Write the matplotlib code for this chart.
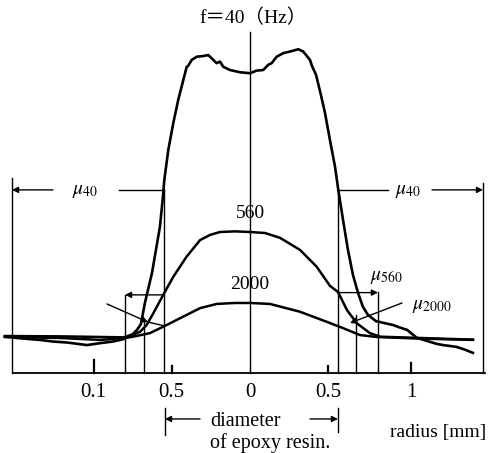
import matplotlib
matplotlib.use("Agg")
import matplotlib.pyplot as plt

plt.rcParams['font.family'] = ['Liberation Serif', 'DejaVu Serif']
plt.rcParams['mathtext.fontset'] = 'stix'

# radius [mm] and relative amplitude
x40 = [-1.551, -1.456, -1.329, -1.247, -1.158, -1.032, -0.949, -0.867, -0.804, -0.772,
       -0.741, -0.715, -0.690, -0.665, -0.620, -0.595, -0.570, -0.551, -0.542, -0.517,
       -0.485, -0.454, -0.422, -0.401, -0.391, -0.369, -0.337, -0.297, -0.264, -0.242,
       -0.211, -0.190, -0.169, -0.127, -0.063, 0.0, 0.042, 0.084, 0.116, 0.137,
       0.169, 0.211, 0.253, 0.306, 0.337, 0.380, 0.392, 0.418, 0.449, 0.475,
       0.506, 0.538, 0.559, 0.589, 0.620, 0.652, 0.684, 0.715, 0.747, 0.797,
       0.850, 0.905, 0.950, 0.994, 1.057, 1.100, 1.139, 1.180, 1.222, 1.270, 1.310, 1.360, 1.411]
y40 = [11.2, 10.7, 10.2, 9.7, 9.4, 8.6, 9.2, 9.7, 10.4, 11.4,
       12.0, 13.3, 15.1, 21.6, 30.9, 38.0, 45.1, 54.3, 59.6, 68.8,
       77.2, 84.3, 90.4, 94.4, 94.8, 96.6, 97.6, 97.8, 98.1, 97.1,
       95.6, 96.1, 94.5, 93.5, 92.8, 92.5, 93.3, 93.5, 95.1, 95.6,
       97.6, 98.7, 99.2, 99.9, 99.2, 96.6, 94.8, 92.0, 85.8, 80.2,
       71.9, 63.7, 56.5, 47.2, 38.0, 30.2, 24.7, 20.4, 17.9, 16.0,
       15.4, 14.8, 14.0, 13.3, 10.8, 10.2, 9.6, 9.0, 8.6, 8.3, 8.0, 7.2, 6.2]

x560 = [-1.551, -1.203, -0.804, -0.759, -0.696, -0.654, -0.612, -0.549, -0.485, -0.401,
        -0.316, -0.253, -0.190, -0.095, 0.0, 0.095, 0.190, 0.316, 0.422, 0.506,
        0.557, 0.614, 0.677, 0.759, 0.823, 1.076, 1.411]
y560 = [11.4, 11.3, 11.0, 11.4, 12.7, 14.8, 18.4, 24.1, 29.7, 35.9,
        41.0, 42.6, 43.5, 43.7, 43.5, 43.2, 41.7, 38.0, 32.8, 26.9,
        25.0, 19.4, 15.3, 12.3, 11.2, 10.8, 10.3]

x2000 = [-1.551, -1.203, -0.949, -0.802, -0.739, -0.633, -0.527, -0.422, -0.316, -0.211,
         -0.095, 0.0, 0.127, 0.316, 0.485, 0.591, 0.696, 0.802, 1.076, 1.411]
y2000 = [11.1, 10.8, 10.2, 10.7, 11.2, 12.3, 14.8, 17.4, 20.0, 21.3,
         21.6, 21.6, 21.3, 18.9, 15.8, 13.8, 11.7, 11.1, 10.6, 10.2]

tick_pos = [-0.99, -0.495, 0.0, 0.495, 1.02]
tick_labels = ["0.1", "0.5", "0", "0.5", "1"]
tick_len = [4.0, 2.2, 0.0, 2.2, 3.0]

# marker verticals: x position and top
vline_x = [-1.506, -0.791, -0.671, -0.544, 0.0, 0.554, 0.671, 0.810, 1.475]
vline_top = [60.2, 24.1, 16.4, 56.5, 105.2, 56.5, 17.9, 25.0, 58.6]

fig = plt.figure(figsize=(4.93, 4.53), dpi=100)
ax = fig.add_axes([0, 0, 1, 1])
ax.set_xlim(-1.582, 1.538)
ax.set_ylim(-24.7, 115.1)
ax.axis('off')

k = 'black'
ax.plot(x40, y40, color=k, lw=1.9, solid_joinstyle='round')
ax.plot(x560, y560, color=k, lw=1.8)
ax.plot(x2000, y2000, color=k, lw=1.8)

# baseline
ax.plot([-1.50, 1.487], [0, 0], color=k, lw=1.3)
for xv, top in zip(vline_x, vline_top):
    ax.plot([xv, xv], [0, top], color=k, lw=1.0)
for xp, lab, tl in zip(tick_pos, tick_labels, tick_len):
    if tl > 0:
        ax.plot([xp, xp], [0, tl], color=k, lw=1.6)
    ax.text(xp, -5.9, lab, ha='center', va='center', fontsize=15)

ap = dict(arrowstyle='-|>', color=k, lw=1.0, mutation_scale=9, shrinkA=0, shrinkB=0)

# mu40 left
ax.annotate('', xy=(-1.506, 56.5), xytext=(-1.247, 56.5), arrowprops=ap)
ax.plot([-0.829, -0.544], [56.5, 56.5], color=k, lw=1.0)
ax.text(-1.044, 55.9, r'$\mu_{40}$', ha='center', va='center', fontsize=14)
# mu40 right
ax.plot([0.554, 0.873], [56.5, 56.5], color=k, lw=1.0)
ax.annotate('', xy=(1.475, 56.5), xytext=(1.152, 56.5), arrowprops=ap)
ax.text(1.0, 55.9, r'$\mu_{40}$', ha='center', va='center', fontsize=14)

# mu560
ax.annotate('', xy=(-0.791, 24.1), xytext=(-0.544, 24.1), arrowprops=ap)
ax.annotate('', xy=(0.810, 24.8), xytext=(0.554, 24.8), arrowprops=ap)
ax.text(0.861, 29.6, r'$\mu_{560}$', ha='center', va='center', fontsize=14)

# mu2000
ax.annotate('', xy=(0.633, 15.4), xytext=(0.962, 21.6), arrowprops=ap)
ax.annotate('', xy=(-0.646, 15.7), xytext=(-0.905, 21.3), arrowprops=ap)
ax.plot([-0.646, -0.538], [15.7, 14.5], color=k, lw=1.0)
ax.text(1.152, 20.4, r'$\mu_{2000}$', ha='center', va='center', fontsize=14)

ax.text(0.0, 49.1, "560", ha='center', va='center', fontsize=14)
ax.text(0.0, 27.2, "2000", ha='center', va='center', fontsize=14)
ax.text(0.02, 109.6, "f\uff1d40\uff08Hz\uff09", ha='center', va='center', fontsize=14,
        family=['Liberation Serif', 'Noto Sans CJK JP'])

# diameter of epoxy resin
ax.plot([-0.538, -0.538], [-10.8, -19.1], color=k, lw=1.0)
ax.annotate('', xy=(-0.538, -14.2), xytext=(-0.316, -14.2), arrowprops=ap)
ax.plot([0.557, 0.557], [-10.8, -18.2], color=k, lw=1.0)
ax.annotate('', xy=(0.557, -14.2), xytext=(0.380, -14.2), arrowprops=ap)
ax.text(-0.253, -15.1, "diameter", ha='left', va='center', fontsize=14.5)
ax.text(-0.253, -21.6, "of epoxy resin.", ha='left', va='center', fontsize=14.5)
ax.text(0.886, -18.5, "radius [mm]", ha='left', va='center', fontsize=14)

fig.savefig("out.png", dpi=100)
